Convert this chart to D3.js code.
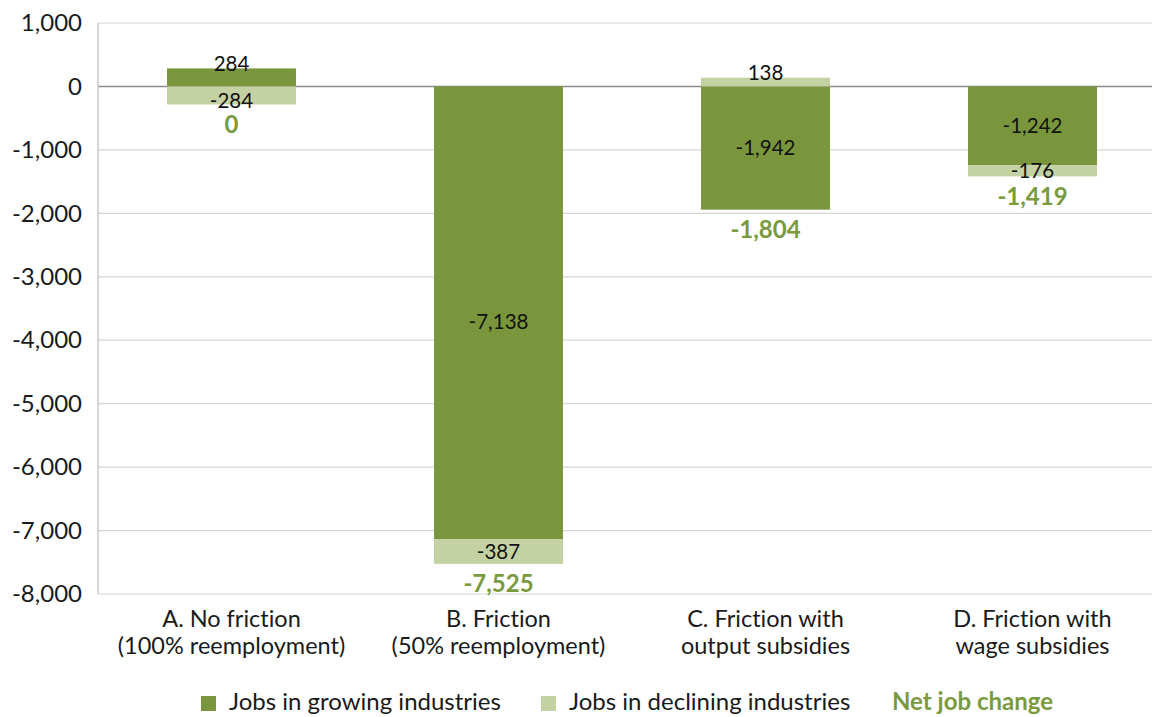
<!DOCTYPE html>
<html>
<head>
<meta charset="utf-8">
<script src="https://cdn.jsdelivr.net/npm/d3@7"></script>
<style>
  html, body { margin: 0; padding: 0; background: #fff; }
  svg { display: block; font-family: Lato, "Open Sans", sans-serif; font-variant-ligatures: none; font-feature-settings: "liga" 0; }
</style>
</head>
<body>
<svg id="chart" width="1152" height="717"></svg>
<script>
// Scenario categories (two-line labels)
const categories = ["A", "B", "C", "D"];
const categoryLines = [
  ["A. No friction", "(100% reemployment)"],
  ["B. Friction", "(50% reemployment)"],
  ["C. Friction with", "output subsidies"],
  ["D. Friction with", "wage subsidies"]
];
// Job changes (thousands)
const growingJobs = [284, -7138, -1942, -1242];
const decliningJobs = [-284, -387, 138, -176];
const netJobs = [0, -7525, -1804, -1419];
const yTicks = [1000, 0, -1000, -2000, -3000, -4000, -5000, -6000, -7000, -8000];
const seriesNames = ["Jobs in growing industries", "Jobs in declining industries"];
const netName = "Net job change";

const colorGrowing = "#7a963c";
const colorDeclining = "#c3d1a3";
const colorNet = "#7a9a3e";

const svg = d3.select("#chart");
const margin = { left: 98, top: 23, bottom: 594 };
const step = 267;

const x = d3.scaleBand()
  .domain(categories)
  .range([margin.left, margin.left + step * categories.length])
  .paddingInner(0.517)
  .paddingOuter(0.2585);

const y = d3.scaleLinear().domain([-8000, 1000]).range([margin.bottom, margin.top]);

// thousands separator with a plain hyphen for negatives
const base = d3.format(",");
const fmt = v => base(v).replace("\u2212", "-");

// Gridlines
svg.append("g").selectAll("line")
  .data(yTicks)
  .join("line")
  .attr("x1", margin.left).attr("x2", 1152)
  .attr("y1", d => y(d)).attr("y2", d => y(d))
  .attr("stroke", d => d === 0 ? "#8c8c8c" : "#d4d4d4")
  .attr("stroke-width", d => d === 0 ? 1.5 : 1.2);

// Left axis line
svg.append("line")
  .attr("x1", margin.left).attr("x2", margin.left)
  .attr("y1", y(1000)).attr("y2", y(-8000))
  .attr("stroke", "#bdbdbd").attr("stroke-width", 1.2);

// Y tick labels
const yAxis = d3.axisLeft(y).tickValues(yTicks).tickFormat(fmt).tickSize(0).tickPadding(16);
const yg = svg.append("g").attr("transform", `translate(${margin.left},0)`).call(yAxis);
yg.select(".domain").remove();
yg.selectAll("text")
  .attr("font-size", 24)
  .attr("font-family", "Lato, sans-serif")
  .attr("fill", "#1a1a1a");

// Stacked data (diverging)
const table = categories.map((c, i) => ({ cat: c, growing: growingJobs[i], declining: decliningJobs[i] }));
const stack = d3.stack().keys(["growing", "declining"]).offset(d3.stackOffsetDiverging);
const stacked = stack(table);
const colors = { growing: colorGrowing, declining: colorDeclining };

const layers = svg.append("g").selectAll("g")
  .data(stacked)
  .join("g")
  .attr("fill", d => colors[d.key]);

layers.selectAll("rect")
  .data(d => d)
  .join("rect")
  .attr("x", d => x(d.data.cat))
  .attr("width", x.bandwidth())
  .attr("y", d => y(Math.max(d[0], d[1])))
  .attr("height", d => Math.abs(y(d[0]) - y(d[1])));

// Segment value labels
const labelG = svg.append("g");
stacked.forEach(layer => {
  layer.forEach(d => {
    const v = d.data[layer.key];
    const top = y(Math.max(d[0], d[1]));
    const bot = y(Math.min(d[0], d[1]));
    const h = bot - top;
    let cy = (top + bot) / 2;
    if (h < 20 && v > 0) cy = top - 5;
    else if (h < 20 && v < 0 && d.data.growing > 0) cy = cy + 5;
    else if (h > 200) cy = cy + 9;
    labelG.append("text")
      .attr("x", x(d.data.cat) + x.bandwidth() / 2)
      .attr("y", cy)
      .attr("dy", "0.35em")
      .attr("text-anchor", "middle")
      .attr("font-size", 20.5)
      .attr("fill", "#111")
      .text(fmt(v));
  });
});

// Net job change labels under each bar
categories.forEach((c, i) => {
  const lowest = d3.min(stacked, layer => layer[i][0]);
  labelG.append("text")
    .attr("x", x(c) + x.bandwidth() / 2)
    .attr("y", y(Math.min(lowest, 0)) + 20)
    .attr("dy", "0.35em")
    .attr("text-anchor", "middle")
    .attr("font-size", 24)
    .attr("font-weight", "bold")
    .attr("fill", colorNet)
    .text(fmt(netJobs[i]));
});

// Category labels
const catG = svg.append("g");
categories.forEach((c, i) => {
  const t = catG.append("text")
    .attr("x", x(c) + x.bandwidth() / 2)
    .attr("y", 627)
    .attr("text-anchor", "middle")
    .attr("font-size", 23.5)
    .attr("fill", "#1a1a1a");
  categoryLines[i].forEach((line, j) => {
    t.append("tspan").attr("x", x(c) + x.bandwidth() / 2).attr("dy", j === 0 ? 0 : 27).text(line);
  });
});

// Legend
const legend = svg.append("g").attr("font-size", 24).attr("fill", "#1a1a1a");
const legendItems = [
  { name: seriesNames[0], color: colorGrowing, x: 201 },
  { name: seriesNames[1], color: colorDeclining, x: 541 }
];
legendItems.forEach(it => {
  legend.append("rect").attr("x", it.x).attr("y", 696).attr("width", 15).attr("height", 15).attr("fill", it.color);
  legend.append("text").attr("x", it.x + 28).attr("y", 710).text(it.name);
});
legend.append("text").attr("x", 892).attr("y", 710)
  .attr("font-weight", "bold").attr("fill", colorNet).text(netName);
</script>
</body>
</html>
